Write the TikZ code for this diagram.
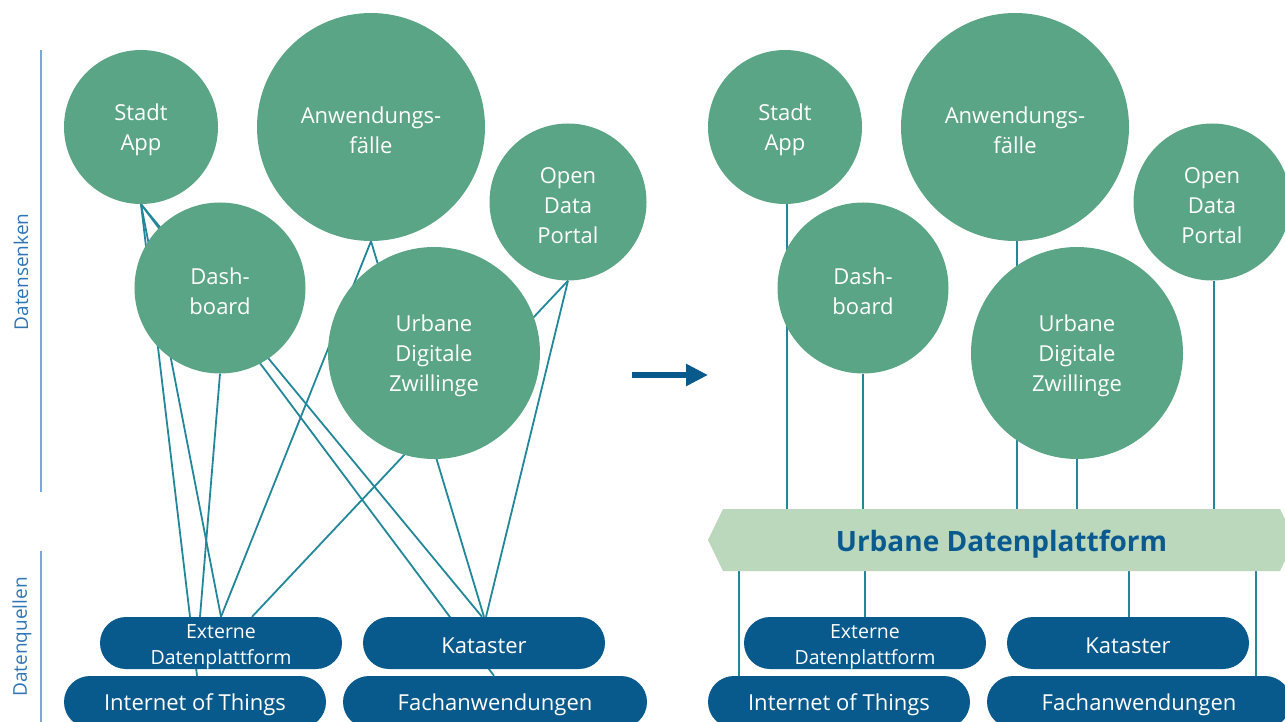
\documentclass[tikz,border=0pt]{standalone}
\usepackage{fontspec}
\setmainfont{Open Sans}
\usetikzlibrary{arrows.meta,backgrounds}
\definecolor{circ}{HTML}{5AA585}
\definecolor{dblue}{HTML}{08598C}
\definecolor{teal2}{HTML}{23879A}
\definecolor{platf}{HTML}{BBD8BD}
\definecolor{vline}{HTML}{7BA7D9}
\definecolor{lbl}{HTML}{2E75B6}
\definecolor{plattext}{HTML}{0B5A8F}
\newcommand\myupc{\rule{0pt}{23pt}}
\newcommand\myups{\rule{0pt}{21pt}}
\begin{document}
\begin{tikzpicture}[x=1pt,y=-1pt,
  bubble/.style={circle, fill=circ, text=white, align=center, inner sep=0pt,
    font=\fontsize{22}{30}\selectfont},
  src/.style={rounded corners=26pt, fill=dblue, text=white, minimum height=52pt, inner sep=0pt, align=center,
    font=\fontsize{22}{26}\selectfont},
  srcsmall/.style={src, font=\fontsize{19.5}{26}\selectfont},
  link/.style={draw=teal2, line width=1.8pt},
  side/.style={draw=vline, line width=1.5pt},
  sidelabel/.style={rotate=90, text=lbl, font=\fontsize{19}{22}\selectfont, inner sep=0pt},
  bigarrow/.style={draw=dblue, line width=6pt, -{Triangle[length=22pt,width=21pt]}}
]
\useasboundingbox (0,0) rectangle (1285,722);

% side labels
\draw[side] (41,50) -- (41,492);
\draw[side] (41,551) -- (41,722);
\node[sidelabel] (lsenk) at (21,272) {Datensenken};
\node[sidelabel] (lquel) at (22,637) {Datenquellen};

% ---------------- left ----------------
\node[bubble, minimum size=154pt] (sa) at (141,127) {\myupc Stadt\\App};
\node[bubble, minimum size=228pt] (af) at (371,127) {\myupc Anwendungs-\\fälle};
\node[bubble, minimum size=157pt] (od) at (568,202) {\myupc Open\\Data\\Portal};
\node[bubble, minimum size=171pt] (db) at (220,288) {\myupc Dash-\\board};
\node[bubble, minimum size=212pt] (dz) at (434,353) {\myupc Urbane\\Digitale\\Zwillinge};

\node[src, minimum width=262pt] (iot) at (195,702) {\rule{0pt}{22pt}Internet of Things};
\node[src, minimum width=304pt] (fach) at (495,702) {\rule{0pt}{22pt}Fachanwendungen};
\node[srcsmall, minimum width=242pt] (ext) at (221,643) {\myups Externe\\Datenplattform};
\node[src, minimum width=242pt] (kat) at (484,643) {\rule{0pt}{21pt}Kataster};

\begin{pgfonlayer}{background}
  \draw[link] (sa.south) -- ([xshift=2pt]iot.north);
  \draw[link] (sa.south) -- (ext.north);
  \draw[link] (sa.south) -- ([xshift=-2pt]kat.north);
  \draw[link] (sa.south) -- ([xshift=-1pt]fach.north);
  \draw[link] (db.south) -- ([xshift=-21pt]ext.north);
  \draw[link] (af.south) -- (ext.north);
  \draw[link] (af.south) -- (kat.north);
  \draw[link] (od.south) -- ([xshift=31pt]ext.north);
  \draw[link] (od.south) -- ([xshift=2pt]kat.north);
\end{pgfonlayer}

% arrow
\coordinate (arrA) at (632,375);
\coordinate (arrB) at (708,375);
\draw[bigarrow] (arrA) -- (arrB);

% ---------------- right ----------------
\node[bubble, minimum size=154pt] (saR) at (785,127) {\myupc Stadt\\App};
\node[bubble, minimum size=228pt] (afR) at (1015,127) {\myupc Anwendungs-\\fälle};
\node[bubble, minimum size=157pt] (odR) at (1212,202) {\myupc Open\\Data\\Portal};
\node[bubble, minimum size=171pt] (dbR) at (863,288) {\myupc Dash-\\board};
\node[bubble, minimum size=212pt] (dzR) at (1077,353) {\myupc Urbane\\Digitale\\Zwillinge};

\fill[platf] (708,540) -- (723,509) -- (1280,509) -- (1295,540) -- (1280,571) -- (723,571) -- cycle;
\node[minimum width=572pt, minimum height=62pt, inner sep=0pt, text=plattext,
      font=\fontsize{28}{30}\selectfont\bfseries] (plat) at (1001.5,540) {\rule{0pt}{29pt}Urbane Datenplattform};

\node[src, minimum width=262pt] (iotR) at (839,702) {\rule{0pt}{22pt}Internet of Things};
\node[src, minimum width=304pt] (fachR) at (1139,702) {\rule{0pt}{22pt}Fachanwendungen};
\node[srcsmall, minimum width=242pt] (extR) at (865,643) {\myups Externe\\Datenplattform};
\node[src, minimum width=242pt] (katR) at (1128,643) {\rule{0pt}{21pt}Kataster};

\begin{pgfonlayer}{background}
  \draw[link] ([xshift=2pt]saR.south) -- ([xshift=2pt]saR.south |- plat.north);
  \draw[link] (dbR.south) -- (dbR.south |- plat.north);
  \draw[link] ([xshift=2pt]afR.south) -- ([xshift=2pt]afR.south |- plat.north);
  \draw[link] (dzR.south) -- (dzR.south |- plat.north);
  \draw[link] ([xshift=2pt]odR.south) -- ([xshift=2pt]odR.south |- plat.north);
  \draw[link] ([xshift=-100pt]iotR.north) -- ([xshift=-100pt]iotR.north |- plat.south);
  \draw[link] (extR.north) -- (extR.north |- plat.south);
  \draw[link] ([xshift=1pt]katR.north) -- ([xshift=1pt]katR.north |- plat.south);
  \draw[link] ([xshift=117pt]fachR.north) -- ([xshift=117pt]fachR.north |- plat.south);
\end{pgfonlayer}
\end{tikzpicture}
\end{document}
